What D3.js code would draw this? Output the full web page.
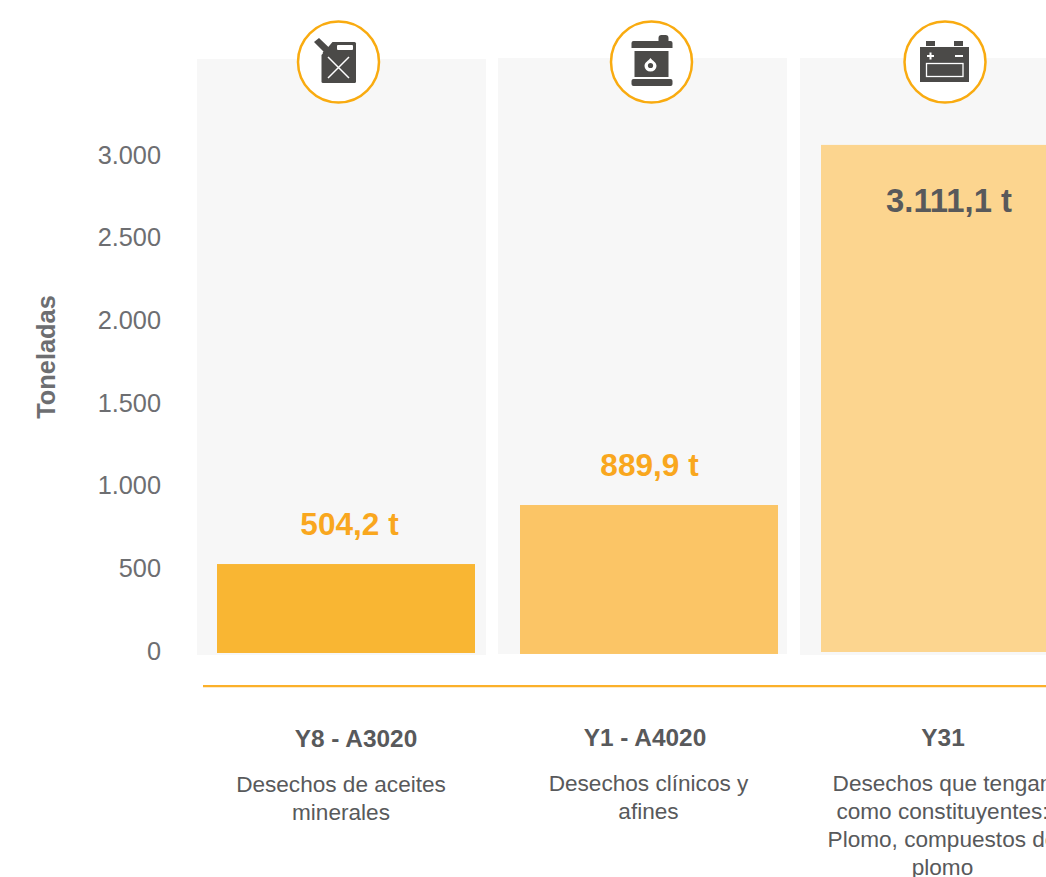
<!DOCTYPE html>
<html><head><meta charset="utf-8">
<script src="https://cdn.jsdelivr.net/npm/d3@7/dist/d3.min.js"></script>
<style>html,body{margin:0;padding:0;background:#fff;overflow:hidden}svg{display:block}text{font-family:"Liberation Sans",Arial,sans-serif}</style>
</head><body><svg id="c" width="1046" height="877"></svg>
<script>
const categories=["Y8 - A3020","Y1 - A4020","Y31"];
const barTops=[526,883,3061];
const barBases=[-12,-18,-6];
const valueLabels=["504,2 t","889,9 t","3.111,1 t"];
const descriptions=[["Desechos de aceites","minerales"],["Desechos clínicos y","afines"],["Desechos que tengan","como constituyentes:","Plomo, compuestos de","plomo"]];
const barColors=["#f9b633","#fbc566","#fcd58f"];
const labelColors=["#f9a71e","#f9a71e","#58595b"];
const ticks=[0,500,1000,1500,2000,2500,3000];
const tickLabels=["0","500","1.000","1.500","2.000","2.500","3.000"];
const panelLeft=[197,498,800],panelTop=[59,58,58],panelBottom=[655,654,655];
const svg=d3.select("#c");
const y=d3.scaleLinear().domain([0,3000]).range([651,155]);
const ink="#58595b",dark="#4b4a48";
categories.forEach((c,i)=>svg.append("rect").attr("x",panelLeft[i]).attr("y",panelTop[i]).attr("width",289).attr("height",panelBottom[i]-panelTop[i]).attr("fill","#f7f7f7"));
svg.selectAll("rect.bar").data(categories).join("rect").attr("class","bar")
 .attr("x",(d,i)=>panelLeft[i]+[20,22,21][i]).attr("width",258)
 .attr("y",(d,i)=>y(barTops[i])).attr("height",(d,i)=>y(barBases[i])-y(barTops[i]))
 .attr("fill",(d,i)=>barColors[i]);
svg.selectAll("text.tick").data(ticks).join("text").attr("class","tick").attr("x",161).attr("y",d=>y(d)-0.5).attr("dy","0.36em")
 .attr("text-anchor","end").attr("font-size",25.3).attr("fill","#6d6e71").text((d,i)=>tickLabels[i]);
svg.append("text").attr("transform","translate(55,357) rotate(-90)").attr("text-anchor","middle").attr("font-size",25.4).attr("font-weight","bold").attr("fill","#6d6e71").text("Toneladas");
const labX=[349.5,649.5,949],labY=[535,476,212],labSize=[31.6,31.6,32.8];
valueLabels.forEach((t,i)=>svg.append("text").attr("x",labX[i]).attr("y",labY[i]).attr("text-anchor","middle").attr("font-size",labSize[i]).attr("font-weight","bold").attr("fill",labelColors[i]).text(t));
svg.append("line").attr("x1",203).attr("x2",1046).attr("y1",686.2).attr("y2",686.2).attr("stroke","#fbb02a").attr("stroke-width",2.3);
const catX=[356,645,943],catY=[747,746,746];
categories.forEach((c,i)=>svg.append("text").attr("x",catX[i]).attr("y",catY[i]).attr("text-anchor","middle").attr("font-size",24.4).attr("font-weight","bold").attr("fill",ink).text(c));
const descX=[341,648.5,942.5],descY=[792,791,791];
descriptions.forEach((ls,i)=>ls.forEach((l,j)=>svg.append("text").attr("x",descX[i]).attr("y",descY[i]+j*28).attr("text-anchor","middle").attr("font-size",22.6).attr("fill",ink).text(l)));
const cx=[338.5,651.5,945],cy=62;
cx.forEach(v=>svg.append("circle").attr("cx",v).attr("cy",cy).attr("r",40.5).attr("fill","#fff").attr("stroke","#f9ab10").attr("stroke-width",2.5));
// jerrycan
let g=svg.append("g").attr("transform",`translate(${cx[0]},${cy})`);
g.append("path").attr("fill",dark).attr("d","M-17,-7 L-6,-20 L16,-20 Q17.5,-20 17.5,-18.5 L17.5,19.5 Q17.5,21 16,21 L-15.5,21 Q-17,21 -17,19.5 Z");
g.append("path").attr("fill",dark).attr("d","M-24.5,-20 L-19.5,-24 L-8,-13 L-14,-8 L-16,-9 L-15,-10.5 Z");
g.append("rect").attr("x",-1.5).attr("y",-17).attr("width",16).attr("height",5).attr("rx",1).attr("fill","#fff");
g.append("path").attr("stroke","#fff").attr("stroke-width",1.5).attr("d","M-10.5,-5 L10.5,16 M10.5,-5 L-10.5,16");
// barrel
g=svg.append("g").attr("transform",`translate(${cx[1]},${cy})`);
g.append("path").attr("fill",dark).attr("d","M-20,-19 Q-20,-21 -18,-21 L7,-21 L7,-24 Q7,-27 10,-27 L14,-27 Q17,-27 17,-24 L17,-21 L19,-21 Q21,-21 21,-19 L21,-14 L-20,-14 Z");
g.append("rect").attr("x",-17).attr("y",-11).attr("width",34).attr("height",26).attr("fill",dark);
g.append("rect").attr("x",-20).attr("y",17).attr("width",41).attr("height",7).attr("rx",2).attr("fill",dark);
g.append("path").attr("fill","#fff").attr("d","M-1,-4 C1,-1 5,0 5,4 A6,5.5 0 0 1 -7,4 C-7,0 -3,-1 -1,-4 Z");
g.append("circle").attr("cx",-1).attr("cy",3.5).attr("r",2.6).attr("fill",dark);
// battery
g=svg.append("g").attr("transform",`translate(${cx[2]},${cy})`);
g.append("rect").attr("x",-19).attr("y",-21).attr("width",9).attr("height",5).attr("fill",dark);
g.append("rect").attr("x",9).attr("y",-21).attr("width",9).attr("height",5).attr("fill",dark);
g.append("rect").attr("x",-25).attr("y",-15).attr("width",49).attr("height",35).attr("fill",dark);
g.append("rect").attr("x",-18.5).attr("y",1.5).attr("width",36.5).attr("height",13).attr("fill","none").attr("stroke","#fff").attr("stroke-width",1.3);
g.append("path").attr("stroke","#fff").attr("stroke-width",2).attr("fill","none").attr("d","M-18,-6 L-11,-6 M-14.5,-9.5 L-14.5,-2.5 M10,-6 L18,-6");
</script></body></html>
